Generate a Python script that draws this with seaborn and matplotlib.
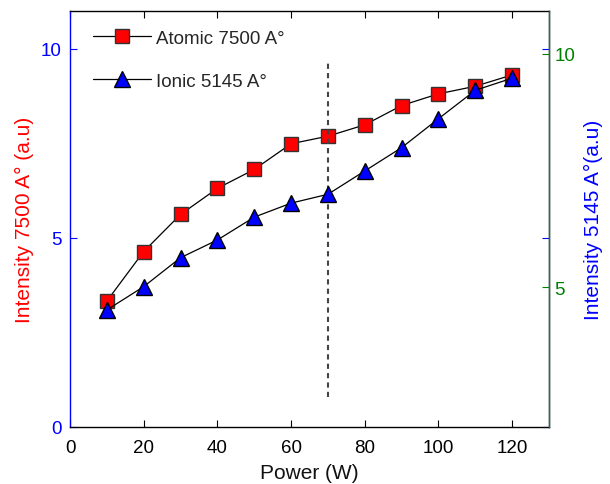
import matplotlib
matplotlib.use('Agg')
import matplotlib.pyplot as plt
import seaborn as sns
import pandas as pd

# data
power = [10, 20, 30, 40, 50, 60, 70, 80, 90, 100, 110, 120]
atomic = [3.33, 4.64, 5.62, 6.31, 6.81, 7.49, 7.69, 7.99, 8.50, 8.81, 9.01, 9.31]
ionic = [4.51, 5.01, 5.63, 6.01, 6.50, 6.80, 6.99, 7.49, 7.99, 8.61, 9.22, 9.48]
vline_x = [70, 70]
vline_y = [0.79, 9.65]

df = pd.DataFrame({'power': power, 'atomic': atomic, 'ionic': ionic})

sns.set_style('white')
plt.rcParams['font.family'] = ['Liberation Sans', 'DejaVu Sans']

fig = plt.figure(figsize=(6.1, 4.85), dpi=100)
ax = fig.add_axes([70/610, 57/485, 479/610, 416/485])
ax2 = ax.twinx()

sns.lineplot(data=df, x='power', y='atomic', ax=ax, color='black', lw=0.9,
             marker='s', markersize=10, markerfacecolor='red',
             markeredgecolor='#333333', markeredgewidth=1.0,
             label='Atomic 7500 A°', legend=False)
sns.lineplot(x=vline_x, y=vline_y, ax=ax, color='#444444', lw=1.5,
             linestyle=(0, (2.5, 2)), estimator=None, sort=False, legend=False)
sns.lineplot(data=df, x='power', y='ionic', ax=ax2, color='black', lw=0.9,
             marker='^', markersize=11, markerfacecolor='blue',
             markeredgecolor='black', markeredgewidth=1.0,
             label='Ionic 5145 A°', legend=False)

ax.set_xlim(0, 130)
ax.set_ylim(0, 11)
ax2.set_ylim(2.0, 10.92)
ax.set_xticks([0, 20, 40, 60, 80, 100, 120])
ax.set_yticks([0, 5, 10])
ax2.set_yticks([5, 10])

ax.set_xlabel('Power (W)', fontsize=15, color='#111111', labelpad=5)
ax.set_ylabel('Intensity 7500 A° (a.u)', fontsize=15, color='red', labelpad=5)
ax2.set_ylabel('Intensity 5145 A°(a.u)', fontsize=15, color='blue', labelpad=6)

ax.tick_params(axis='x', direction='in', top=True, bottom=True, length=5,
               labelsize=13.5, colors='black', pad=9)
ax.tick_params(axis='y', direction='in', left=True, right=True, length=5,
               labelsize=13.5, colors='blue', pad=6)
ax2.tick_params(axis='y', direction='in', right=True, length=5,
                labelsize=13.5, colors='green', pad=4)

for a in (ax, ax2):
    for s in a.spines.values():
        s.set_linewidth(1.0)
ax.spines['left'].set_color('blue')
ax.spines['bottom'].set_color('black')
ax.spines['top'].set_color('black')
ax2.spines['right'].set_color('#2a6a50')
ax2.spines['left'].set_visible(False)
ax2.spines['top'].set_visible(False)
ax2.spines['bottom'].set_visible(False)

h1, l1 = ax.get_legend_handles_labels()
h2, l2 = ax2.get_legend_handles_labels()
ax2.legend(h1 + h2, l1 + l2, loc='upper left', frameon=False, fontsize=13.5,
           handlelength=3.1, labelspacing=1.38, handletextpad=0.3,
           borderaxespad=0.6, bbox_to_anchor=(0.008, 1.0))

fig.savefig('out.png', dpi=100)
